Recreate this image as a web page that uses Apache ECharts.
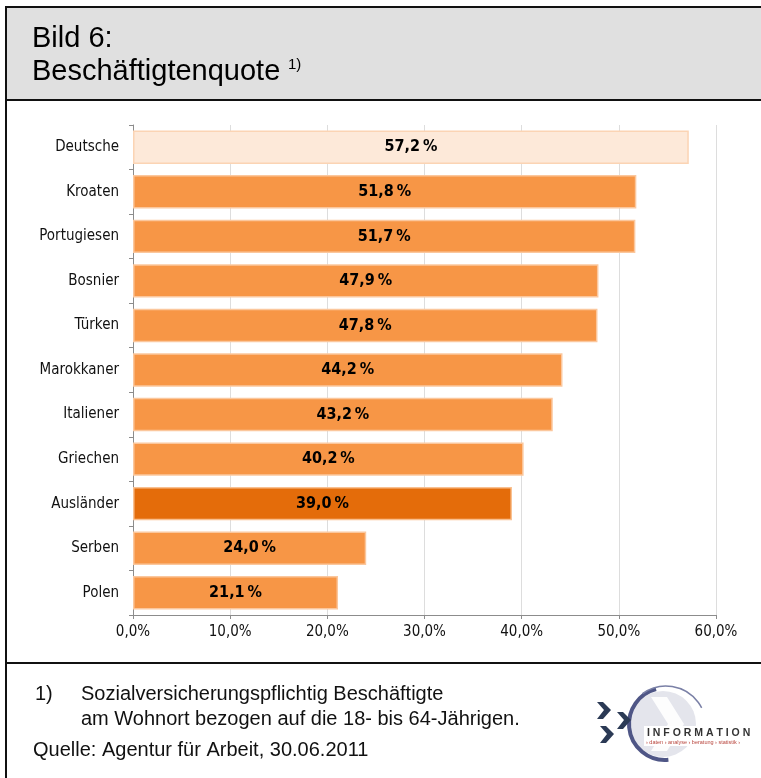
<!DOCTYPE html>
<html>
<head>
<meta charset="utf-8">
<script src="https://cdn.jsdelivr.net/npm/echarts@6/dist/echarts.min.js"></script>
<style>
    html, body { margin: 0; padding: 0; background: #fff; }
    #id-div-chart { width: 761px; height: 778px; }
</style>
</head>
<body>
<div id="id-div-chart"></div>
<script>
var log = console.log.bind(console)

var e = (selector) => document.querySelector(selector)

// 数据
var categories = ['Deutsche', 'Kroaten', 'Portugiesen', 'Bosnier', 'Türken', 'Marokkaner',
    'Italiener', 'Griechen', 'Ausländer', 'Serben', 'Polen']
var values = [57.2, 51.8, 51.7, 47.9, 47.8, 44.2, 43.2, 40.2, 39.0, 24.0, 21.1]
var axisTicks = [0, 10, 20, 30, 40, 50, 60]

var sans = '"Liberation Sans", Arial, sans-serif'
var cond = '"DejaVu Sans Condensed", "Liberation Sans", Arial, sans-serif'

var comma = function(v) {
    return v.toFixed(1).replace('.', ',')
}

var barColor = function(name) {
    if (name == 'Deutsche') {
        return { fill: '#fde9d9', border: '#fbd4b4' }
    } else if (name == 'Ausländer') {
        return { fill: '#e46c0a', border: '#f9c090' }
    }
    return { fill: '#f79646', border: '#fbc79d' }
}

var seriesData = function() {
    var list = []
    for (var i = 0; i < values.length; i++) {
        var c = barColor(categories[i])
        list.push({
            value: values[i],
            itemStyle: { color: c.fill, borderColor: c.border, borderWidth: 1.5 },
        })
    }
    return list
}

var text = function(x, y, s, font, color) {
    return {
        type: 'text',
        x: x, y: y,
        style: { text: s, font: font, fill: color || '#000000', verticalAlign: 'middle' },
    }
}

var logo = function() {
    var navy = '#2b3a55'
    var chevron = function(x, y) {
        return {
            type: 'polygon',
            shape: { points: [[x, y], [x + 6, y], [x + 14, y + 8], [x + 6, y + 17], [x, y + 17], [x + 7, y + 8]] },
            style: { fill: navy },
        }
    }
    return [
        {
            type: 'circle',
            shape: { cx: 663, cy: 724, r: 33 },
            style: { fill: '#e4e5ec' },
        },
        {
            type: 'polygon',
            shape: { points: [[651, 697], [667, 697], [684, 724], [667, 751], [651, 751], [668, 724]] },
            style: { fill: '#ffffff', opacity: 0.9 },
        },
        {
            type: 'arc',
            shape: { cx: 665, cy: 724, r: 36, startAngle: Math.PI * 0.47, endAngle: Math.PI * 1.42 },
            style: { stroke: '#4f5686', lineWidth: 4, fill: null },
        },
        {
            type: 'arc',
            shape: { cx: 666, cy: 726, r: 40, startAngle: Math.PI * 1.3, endAngle: Math.PI * 1.85 },
            style: { stroke: '#7a80a6', lineWidth: 1.5, fill: null },
        },
        chevron(597, 702),
        chevron(617, 712),
        chevron(600, 726),
        {
            type: 'rect',
            shape: { x: 644, y: 726, width: 114, height: 20 },
            style: { fill: '#ffffff' },
        },
        text(647, 733, 'I N F O R M A T I O N', 'bold 10.5px ' + sans, '#333333'),
        text(646, 742, '› daten › analyse › beratung › statistik ›', '5.5px ' + sans, '#b8443c'),
    ]
}

var frame = function() {
    var line = function(x1, y1, x2, y2) {
        return {
            type: 'line',
            shape: { x1: x1, y1: y1, x2: x2, y2: y2 },
            style: { stroke: '#111111', lineWidth: 2 },
        }
    }
    return [
        {
            type: 'rect',
            shape: { x: 6, y: 7, width: 760, height: 93 },
            style: { fill: '#e0e0e0' },
        },
        line(5, 7, 761, 7),
        line(6, 6, 6, 778),
        line(5, 100, 761, 100),
        line(5, 663, 761, 663),
        text(32, 39, 'Bild 6:', '29px ' + sans),
        text(32, 72, 'Beschäftigtenquote', '29px ' + sans),
        text(288, 65, '1)', '15px ' + sans),
        text(35, 694, '1)', '20px ' + sans, '#111111'),
        text(81, 694, 'Sozialversicherungspflichtig Beschäftigte', '20px ' + sans, '#111111'),
        text(81, 719, 'am Wohnort bezogen auf die 18- bis 64-Jährigen.', '20px ' + sans, '#111111'),
        text(33, 750, 'Quelle: Agentur für Arbeit, 30.06.2011', '20px ' + sans, '#111111'),
    ]
}

var option = function() {
    return {
        animation: false,
        backgroundColor: '#ffffff',
        grid: { left: 133, right: 45, top: 125, bottom: 163 },
        xAxis: {
            type: 'value',
            min: axisTicks[0],
            max: axisTicks[axisTicks.length - 1],
            interval: 10,
            axisLine: { show: true, lineStyle: { color: '#8c8c8c' } },
            axisTick: { show: true, length: 4, lineStyle: { color: '#8c8c8c' } },
            axisLabel: {
                margin: 10,
                fontFamily: cond, fontSize: 15, color: '#111111',
                formatter: (v) => comma(v) + '%',
            },
            splitLine: { show: true, lineStyle: { color: '#dddddd' } },
        },
        yAxis: {
            type: 'category',
            data: categories,
            inverse: true,
            axisLine: { show: true, lineStyle: { color: '#8c8c8c' } },
            axisTick: { show: true, length: 4, lineStyle: { color: '#8c8c8c' } },
            axisLabel: { margin: 14, fontFamily: cond, fontSize: 15, color: '#111111' },
        },
        series: [
            {
                type: 'bar',
                data: seriesData(),
                barCategoryGap: '25%',
                label: {
                    show: true,
                    position: 'inside',
                    fontFamily: cond, fontSize: 16, fontWeight: 'bold', color: '#000000',
                    formatter: (p) => comma(p.value) + '\u2009%',
                },
            },
        ],
        graphic: frame().concat(logo()),
    }
}

var __main = function() {
    var chart = echarts.init(e('#id-div-chart'), null, { renderer: 'canvas' })
    chart.setOption(option())
}

__main()
</script>
</body>
</html>
